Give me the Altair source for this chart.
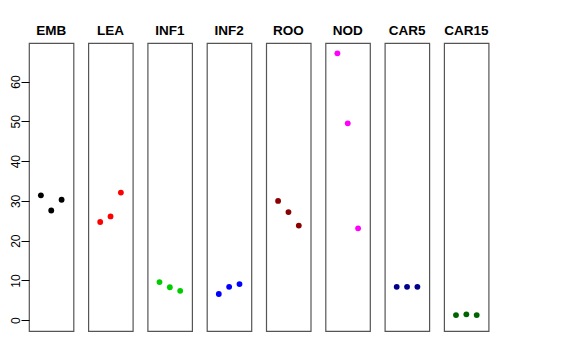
import altair as alt
import pandas as pd

tissues = ["EMB", "LEA", "INF1", "INF2", "ROO", "NOD", "CAR5", "CAR15"]
colors = ["#000000", "#FF0000", "#00CD00", "#0000FF", "#8B0000", "#FF00FF", "#00008B", "#006400"]
replicate = [1, 2, 3]

emb = [31.4, 27.6, 30.3]
lea = [24.7, 26.1, 32.1]
inf1 = [9.6, 8.3, 7.4]
inf2 = [6.6, 8.4, 9.1]
roo = [30.0, 27.2, 23.8]
nod = [67.1, 49.5, 23.1]
car5 = [8.4, 8.4, 8.4]
car15 = [1.3, 1.5, 1.3]

series = [emb, lea, inf1, inf2, roo, nod, car5, car15]
y_ticks = [0, 10, 20, 30, 40, 50, 60]

panels = []
for i, (name, col, vals) in enumerate(zip(tissues, colors, series)):
    df = pd.DataFrame({"rep": replicate, "value": vals})
    if i == 0:
        yaxis = alt.Axis(values=y_ticks, labelAngle=-90, tickSize=8, labelPadding=-1,
                         domain=False, grid=False, tickColor="#000000", labelColor="#000000",
                         labelFont="Liberation Sans", labelFontSize=12, title=None)
    else:
        yaxis = None
    ch = alt.Chart(df).mark_circle(size=34, opacity=1, color=col).encode(
        x=alt.X("rep:Q", scale=alt.Scale(domain=[-0.15, 4.15], nice=False, zero=False), axis=None),
        y=alt.Y("value:Q", scale=alt.Scale(domain=[-2.7, 69.7], nice=False, zero=False), axis=yaxis),
    ).properties(
        width=44.5, height=288,
        title=alt.TitleParams(name, fontSize=13.5, fontWeight="bold", font="Liberation Sans",
                              color="#000000", offset=6, anchor="middle"),
    )
    panels.append(ch)

chart = alt.hconcat(*panels, spacing=12.3).properties(
    padding={"left": 0, "top": 14, "right": 5, "bottom": 5}
).configure_view(stroke="#555555", strokeWidth=1.2)

chart.save("out.html", embed_options={"renderer": "svg", "actions": False})
